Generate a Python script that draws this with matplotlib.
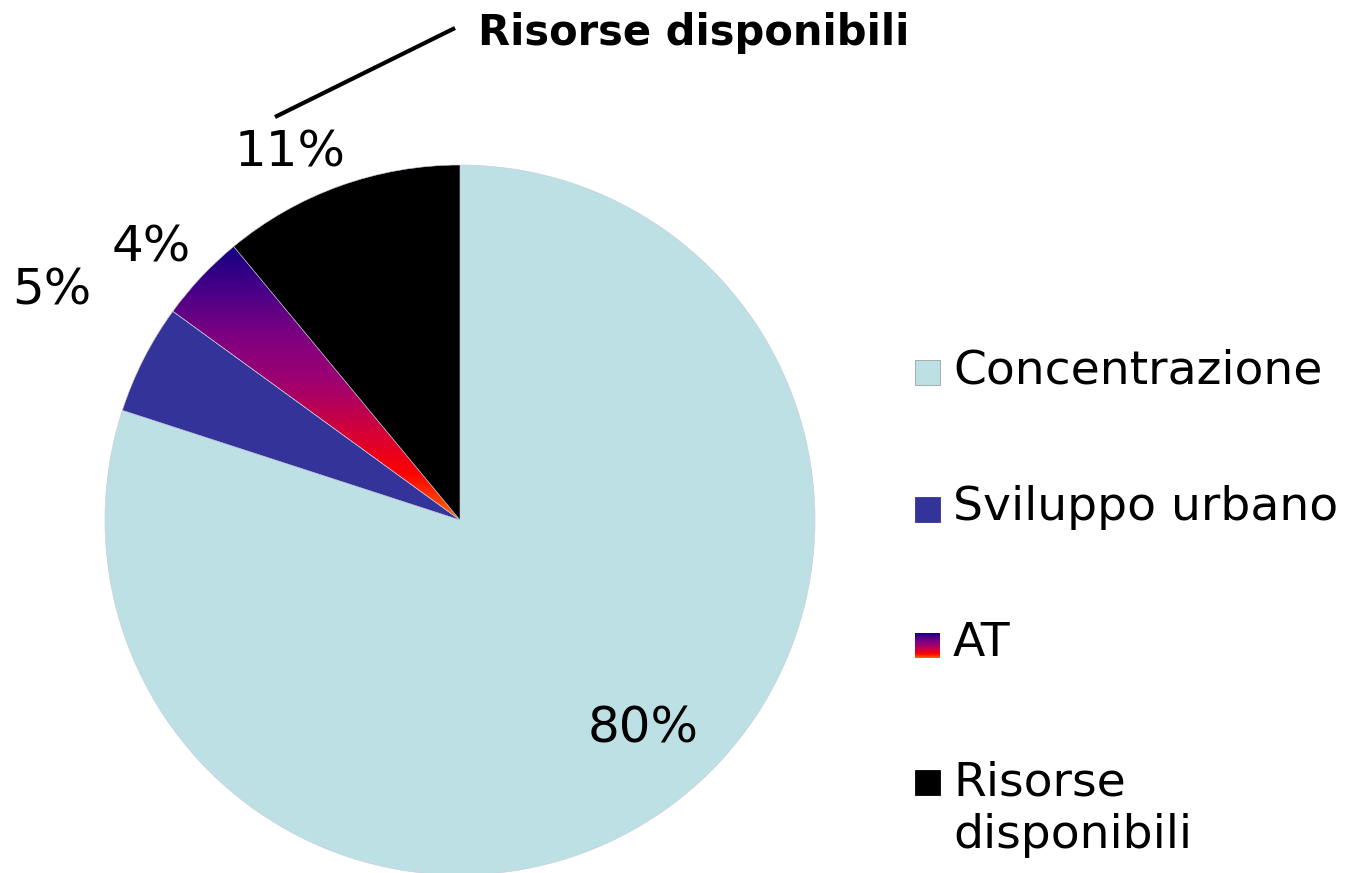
import matplotlib
matplotlib.use("Agg")
import matplotlib.pyplot as plt
import numpy as np
from matplotlib.colors import LinearSegmentedColormap
from matplotlib.patches import Rectangle

# data
labels = ["Concentrazione", "Sviluppo urbano", "AT", "Risorse disponibili"]
legend_labels = ["Concentrazione", "Sviluppo urbano", "AT", "Risorse\ndisponibili"]
values = [80, 5, 4, 11]
pct_text = ["80%", "5%", "4%", "11%"]
colors = ["#bce0e3", "#333399", "#7a0088", "#000000"]

# layout of the percentage labels (radius factor, angle shift in degrees)
label_r = [0.78, 1.32, 1.16, 1.14]
label_shift = [5.3, -2.3, 1.8, 5.0]

at_cmap = LinearSegmentedColormap.from_list(
    "at", ["#ff6a00", "#ff0000", "#d0003c", "#a00070", "#800080", "#4a0088", "#140080"])


def main():
    fig = plt.figure(figsize=(13.5, 8.73), dpi=100)
    ax = fig.add_axes([0, 0, 1, 1])
    cx, cy, R = 460, 353, 355
    wedges, _ = ax.pie(values, colors=colors, startangle=90, counterclock=False,
                       center=(cx, cy), radius=R,
                       wedgeprops=dict(edgecolor="#c8c8dc", linewidth=0.4))
    ax.axis("off")

    # gradient fill for the AT slice, from its tip up to its top corner
    at = wedges[2]
    at.set_facecolor("none")
    top = R * max(np.sin(np.deg2rad(at.theta1)), np.sin(np.deg2rad(at.theta2)))
    grad = np.linspace(0, 1, 256).reshape(-1, 1)
    im = ax.imshow(grad, cmap=at_cmap, origin="lower", aspect="auto",
                   extent=(cx - R, cx, cy, cy + top), zorder=at.get_zorder() - 0.1)
    im.set_clip_path(at)

    for w, t, rf, sh in zip(wedges, pct_text, label_r, label_shift):
        mid = np.deg2rad((w.theta1 + w.theta2) / 2 + sh)
        ax.text(cx + rf * R * np.cos(mid), cy + rf * R * np.sin(mid), t,
                ha="center", va="center", fontsize=36, color="black")

    # callout
    ax.plot([275, 455], [756, 845], color="black", lw=3, solid_capstyle="butt")
    ax.text(478, 840, "Risorse disponibili", ha="left", va="center",
            fontsize=30, fontweight="bold")

    # legend
    y0, step = 500, 136.5
    for i, (lab, col) in enumerate(zip(legend_labels, colors)):
        y = y0 - i * step
        if lab == "AT":
            ax.imshow(grad, cmap=at_cmap, origin="lower", aspect="auto",
                      extent=(915, 940, y - 12, y + 13), zorder=3)
        else:
            ax.add_patch(Rectangle((915, y - 12), 25, 25, facecolor=col,
                                   edgecolor="#a0a0a0" if i == 0 else col, lw=0.6))
        if "\n" in lab:
            ax.text(953, y - 27, lab, ha="left", va="center", fontsize=34,
                    linespacing=1.2)
        else:
            ax.text(953, y + 2, lab, ha="left", va="center", fontsize=34)
    ax.set_xlim(0, 1350)
    ax.set_ylim(0, 873)
    ax.set_aspect("auto")

    fig.savefig("out.png", dpi=100)


if __name__ == "__main__":
    main()
